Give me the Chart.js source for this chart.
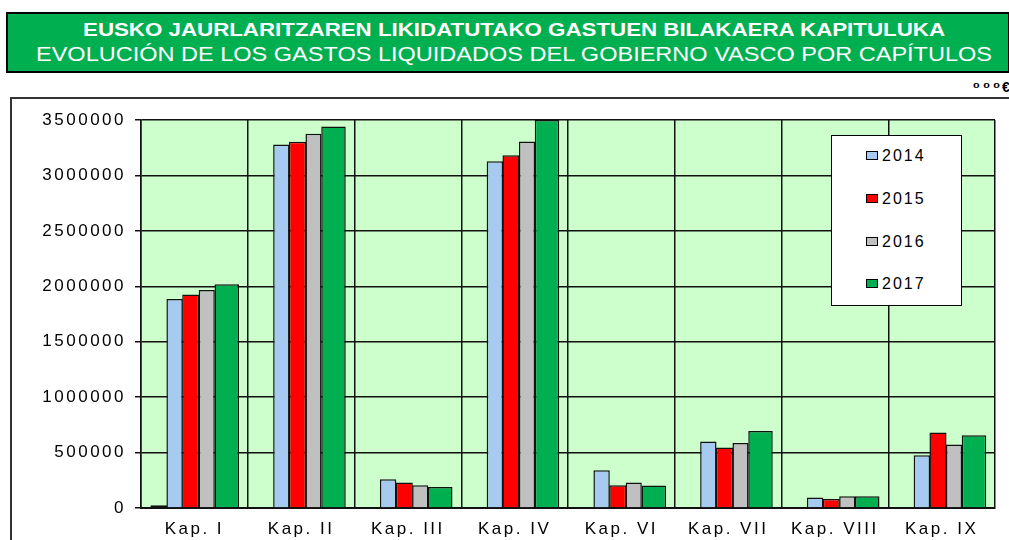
<!DOCTYPE html>
<html><head><meta charset="utf-8">
<script src="https://cdn.jsdelivr.net/npm/chart.js@4.4.1/dist/chart.umd.min.js"></script>
<style>
html,body{margin:0;padding:0;background:#fff;}
body{width:1009px;height:540px;overflow:hidden;position:relative;font-family:"Liberation Sans",Arial,sans-serif;}
#tbox{position:absolute;left:6px;top:12px;width:1004px;height:61px;box-sizing:border-box;background:#00B050;border:2px solid #000;}
.tl{position:absolute;white-space:nowrap;color:#fff;line-height:1;transform-origin:0 0;}
#t1{font-weight:bold;font-size:18px;left:83px;top:20.5px;}
#t2{font-size:20px;left:36px;top:44px;}
#frame{position:absolute;left:10px;top:97px;width:1100px;height:600px;border-top:2px solid #333;border-left:2px solid #333;}
#u1{position:absolute;left:973px;top:76.8px;height:12px;font-size:12px;font-weight:bold;letter-spacing:3.5px;line-height:1;color:#000;transform:scaleY(0.6);transform-origin:0 100%;}
#u2{position:absolute;left:1002px;top:80px;font-size:14px;font-weight:bold;line-height:1;color:#000;}
#c{position:absolute;left:0;top:0;}
#legend{position:absolute;left:831px;top:135px;width:131px;height:171px;box-sizing:border-box;background:#fff;border:1.5px solid #000;}
.sw{position:absolute;width:12px;height:9px;box-sizing:border-box;border:1.5px solid #000;}
.lt{position:absolute;font-size:16px;line-height:1;letter-spacing:2px;color:#000;}
</style>
</head>
<body>
<div id="tbox"></div>
<div id="t1" class="tl">EUSKO JAURLARITZAREN LIKIDATUTAKO GASTUEN BILAKAERA KAPITULUKA</div>
<div id="t2" class="tl">EVOLUCIÓN DE LOS GASTOS LIQUIDADOS DEL GOBIERNO VASCO POR CAPÍTULOS</div>
<div id="frame"></div>
<div id="u1">000</div><div id="u2">€</div>
<canvas id="c" width="1009" height="540"></canvas>
<div id="legend"></div>
<script>
// ---- data ----
const categories = ['Kap. I','Kap. II','Kap. III','Kap. IV','Kap. VI','Kap. VII','Kap. VIII','Kap. IX'];
const years = ['2014','2015','2016','2017'];
const extraSeries = [25000, 0, 0, 0, 0, 0, 0, 0];
const v2014 = [1885000, 3280000, 259000, 3129000, 340000, 599000, 94000, 476000];
const v2015 = [1926000, 3303000, 229000, 3183000, 205000, 545000, 81000, 680000];
const v2016 = [1967000, 3375000, 205000, 3307000, 229000, 587000, 106000, 572000];
const v2017 = [2019000, 3442000, 190000, 3500000, 203000, 695000, 106000, 656000];
const yTicks = [0, 500000, 1000000, 1500000, 2000000, 2500000, 3000000, 3500000];
const colors = ['#A6CAF0', '#FF0000', '#C0C0C0', '#00B050'];

// ---- title fitting ----
function fitText(id, left, right){
  const el = document.getElementById(id);
  el.style.transform = 'none';
  const w = el.getBoundingClientRect().width;
  el.style.left = left + 'px';
  el.style.transform = 'scaleX(' + ((right - left) / w) + ')';
}
fitText('t1', 83, 945);
fitText('t2', 36, 992);

// ---- legend ----
const legend = document.getElementById('legend');
const centers = [156, 199, 242, 284];
years.forEach((y, i) => {
  const sw = document.createElement('div');
  sw.className = 'sw';
  sw.style.background = colors[i];
  sw.style.left = (866 - 832.5) + 'px';
  sw.style.top = (centers[i] - 4.5 - 136.5) + 'px';
  legend.appendChild(sw);
  const t = document.createElement('div');
  t.className = 'lt';
  t.textContent = y;
  t.style.left = (882.5 - 832.5) + 'px';
  t.style.top = (centers[i] - 7.8 - 136.5) + 'px';
  legend.appendChild(t);
});

// ---- chart ----
const bgPlugin = {
  id: 'bg',
  beforeLayout(chart){ chart.ctx.letterSpacing = '2.5px'; },
  beforeDraw(chart){
    const {ctx, chartArea: a} = chart;
    ctx.save();
    ctx.fillStyle = '#CCFFCC';
    ctx.fillRect(a.left, a.top, a.right - a.left, a.bottom - a.top);
    ctx.restore();
    ctx.letterSpacing = '2.5px';
  }
};

// per-bar slot placement (style only): [categoryPercentage, barPercentage]
const slotStyle = [[0.8021, 1.163], [0.7410, 1.244], [0.4075, 2.359], [1.3911, 0.6505], [1.2131, 1.135]];
const yearData = [v2014, v2015, v2016, v2017];
const datasets = [{
  label: '',
  data: extraSeries,
  backgroundColor: '#222',
  borderColor: '#111',
  borderWidth: 1,
  borderSkipped: false,
  categoryPercentage: slotStyle[0][0],
  barPercentage: slotStyle[0][1]
}].concat(years.map((y, i) => ({
  label: y,
  data: yearData[i],
  backgroundColor: colors[i],
  borderColor: '#111',
  borderWidth: 1.5,
  categoryPercentage: slotStyle[i + 1][0],
  barPercentage: slotStyle[i + 1][1]
}))).concat([{ label: '', data: categories.map(() => null) }]);

new Chart(document.getElementById('c'), {
  type: 'bar',
  data: { labels: categories, datasets },
  options: {
    responsive: false,
    devicePixelRatio: 1,
    animation: false,
    layout: { padding: { left: 11, right: 14, top: 120, bottom: 0 } },
    plugins: { legend: { display: false }, tooltip: { enabled: false } },
    scales: {
      x: {
        grid: { offset: true, drawTicks: false, color: '#111', lineWidth: 1.5 },
        border: { display: true, color: '#111', width: 2 },
        ticks: { color: '#000', font: { family: '"Liberation Sans", Arial, sans-serif', size: 17 }, padding: 11, maxRotation: 0, autoSkip: false },
        afterFit(s){ s.height = 32; }
      },
      y: {
        min: 0, max: 3500000,
        afterBuildTicks(s){ s.ticks = yTicks.map(v => ({ value: v })); },
        grid: { color: '#111', lineWidth: 1.5, tickLength: 6, tickColor: '#111' },
        border: { display: true, color: '#111', width: 1.5 },
        ticks: { color: '#000', font: { family: '"Liberation Sans", Arial, sans-serif', size: 17 }, padding: 9, callback: v => String(v) },
        afterFit(s){ s.width = 130; }
      }
    }
  },
  plugins: [bgPlugin]
});
</script>
</body></html>
